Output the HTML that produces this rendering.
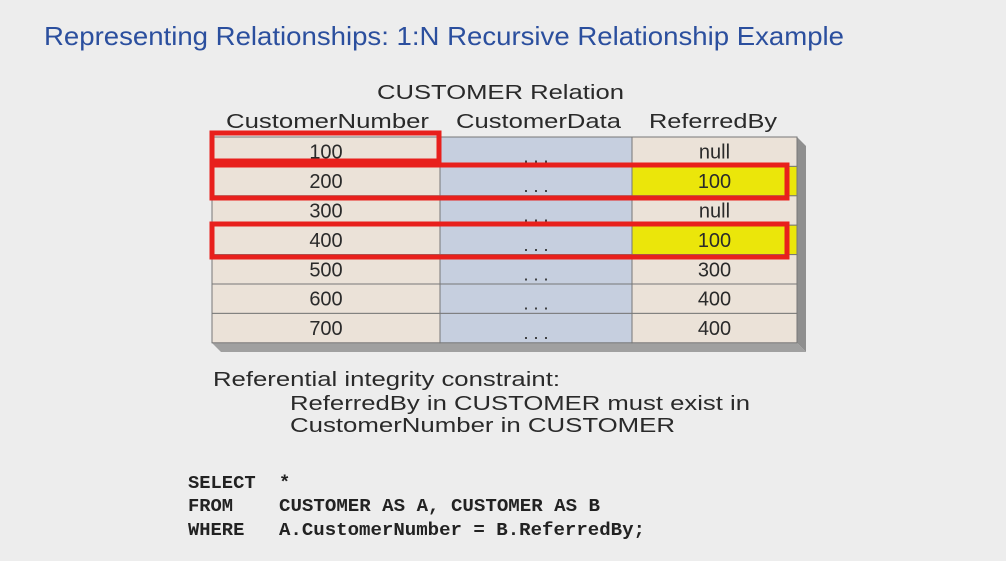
<!DOCTYPE html>
<html><head><meta charset="utf-8"><style>
html,body{margin:0;padding:0;background:#ededed;}
svg{display:block;}
.s{font-family:"Liberation Sans",sans-serif;fill:#2a2a2a;}
.m{font-family:"Liberation Mono",monospace;font-weight:bold;fill:#222;font-size:18.8px;}
</style></head><body>
<svg width="1006" height="561" viewBox="0 0 1006 561">
<rect x="0" y="0" width="1006" height="561" fill="#ededed"/>
<text x="44" y="45" font-family="Liberation Sans,sans-serif" font-size="26" fill="#2b4f9e" textLength="800" lengthAdjust="spacingAndGlyphs">Representing Relationships: 1:N Recursive Relationship Example</text>
<text class="s" x="377" y="99" font-size="20" textLength="247" lengthAdjust="spacingAndGlyphs">CUSTOMER Relation</text>
<text class="s" x="226" y="128" font-size="20" textLength="203" lengthAdjust="spacingAndGlyphs">CustomerNumber</text>
<text class="s" x="456" y="128" font-size="20" textLength="165" lengthAdjust="spacingAndGlyphs">CustomerData</text>
<text class="s" x="649" y="128" font-size="20" textLength="128" lengthAdjust="spacingAndGlyphs">ReferredBy</text>
<polygon points="797,137 806,146 806,352 797,343" fill="#8f8f8f"/>
<polygon points="212,343 797,343 806,352 221,352" fill="#a0a0a0"/>
<g id="rows"></g>
<g>
<rect x="212" y="133" width="227" height="28" fill="none" stroke="#e8201c" stroke-width="5"/>
<rect x="212" y="165" width="575" height="33" fill="none" stroke="#e8201c" stroke-width="5"/>
<rect x="212" y="224" width="575" height="33" fill="none" stroke="#e8201c" stroke-width="5"/>
</g>
<text class="s" x="213" y="386" font-size="20" textLength="347" lengthAdjust="spacingAndGlyphs">Referential integrity constraint:</text>
<text class="s" x="290" y="410" font-size="20" textLength="460" lengthAdjust="spacingAndGlyphs">ReferredBy in CUSTOMER must exist in</text>
<text class="s" x="290" y="432" font-size="20" textLength="385" lengthAdjust="spacingAndGlyphs">CustomerNumber in CUSTOMER</text>
<text class="m" x="188" y="488">SELECT</text>
<text class="m" x="279" y="488">*</text>
<text class="m" x="188" y="511">FROM</text>
<text class="m" x="279" y="511" textLength="321" lengthAdjust="spacingAndGlyphs">CUSTOMER AS A, CUSTOMER AS B</text>
<text class="m" x="188" y="535">WHERE</text>
<text class="m" x="279" y="535" textLength="366" lengthAdjust="spacingAndGlyphs">A.CustomerNumber = B.ReferredBy;</text>
</svg>
<script>
const custNums = ["100","200","300","400","500","600","700"];
const referredBy = ["null","100","null","100","300","400","400"];
const highlighted = [false,true,false,true,false,false,false];
const NS="http://www.w3.org/2000/svg";
const g=document.getElementById('rows');
const top0=137, rh=29.4, cols=[212,440,632,797];
function mk(t,a){const e=document.createElementNS(NS,t);for(const k in a)e.setAttribute(k,a[k]);g.appendChild(e);return e;}
custNums.forEach((n,i)=>{
  const y=top0+i*rh;
  const c1=mk('rect',{x:cols[0],y:y,width:cols[1]-cols[0],height:rh,fill:'#ebe2d8',stroke:'#777','stroke-width':1});
  
  
  const c2=mk('rect',{x:cols[1],y:y,width:cols[2]-cols[1],height:rh,fill:'#c6cfdf',stroke:'#777','stroke-width':1});
  
  
  const c3=mk('rect',{x:cols[2],y:y,width:cols[3]-cols[2],height:rh,fill:highlighted[i]?'#ebe60a':'#ebe2d8',stroke:'#777','stroke-width':1});
  
  
  const cy=y+rh/2+7;
  const t1=mk('text',{x:(cols[0]+cols[1])/2,y:cy,'text-anchor':'middle','font-size':20,'class':'s'});t1.textContent=n;
  
  
  const t2=mk('text',{x:(cols[1]+cols[2])/2,y:cy+4,'text-anchor':'middle','font-size':18,'class':'s'});t2.textContent='. . .';
  
  
  const t3=mk('text',{x:(cols[2]+cols[3])/2,y:cy,'text-anchor':'middle','font-size':20,'class':'s'});t3.textContent=referredBy[i];
  
  
});
</script>
</body></html>
